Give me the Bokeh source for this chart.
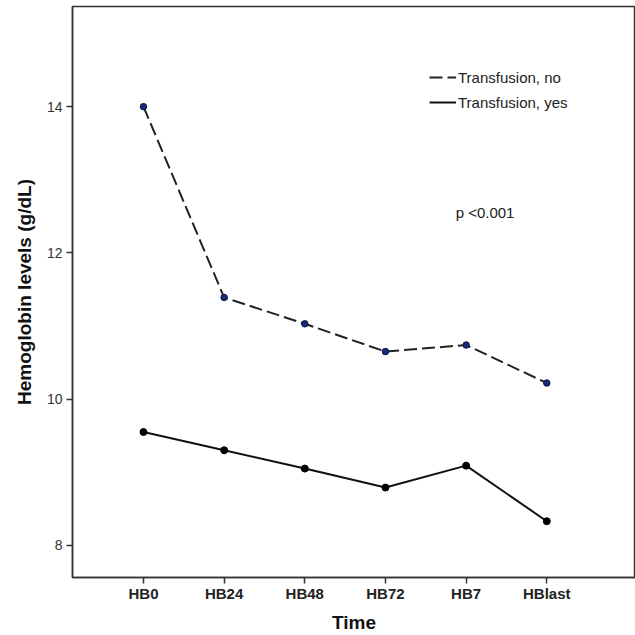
from bokeh.plotting import figure
from bokeh.models import FixedTicker, Range1d, Legend, LegendItem, Label
from bokeh.embed import file_html
from bokeh.resources import INLINE

categories = ["HB0", "HB24", "HB48", "HB72", "HB7", "HBlast"]
transfusion_no = [14.0, 11.39, 11.03, 10.65, 10.74, 10.22]
transfusion_yes = [9.55, 9.30, 9.05, 8.79, 9.09, 8.33]
y_ticks = [8, 10, 12, 14]

xs = list(range(len(categories)))
FONT = "Liberation Sans"

p = figure(width=635, height=635, output_backend="svg", toolbar_location=None,
           x_range=Range1d(-0.88, 6.1), y_range=Range1d(7.56, 15.37),
           min_border_left=72, min_border_top=6, min_border_right=0, min_border_bottom=58)
p.xgrid.visible = False
p.ygrid.visible = False
p.outline_line_color = "#333333"
p.outline_line_width = 1.5
p.background_fill_color = "white"
p.border_fill_color = "white"

l_no = p.line(xs, transfusion_no, line_color="#222222", line_width=2, line_dash="13 5")
c_no = p.scatter(xs, transfusion_no, size=6.5, fill_color="#1a2a7a", line_color="#0d1540")
l_yes = p.line(xs, transfusion_yes, line_color="#111111", line_width=2)
c_yes = p.scatter(xs, transfusion_yes, size=7, fill_color="black", line_color="black")

p.xaxis.ticker = FixedTicker(ticks=xs)
p.xaxis.major_label_overrides = {i: c for i, c in enumerate(categories)}
p.yaxis.ticker = FixedTicker(ticks=y_ticks)
p.xaxis.minor_tick_line_color = None
p.yaxis.minor_tick_line_color = None
for ax in (p.xaxis, p.yaxis):
    ax.axis_line_color = "#333333"
    ax.axis_line_width = 1.5
    ax.major_tick_line_color = "#333333"
    ax.major_tick_line_width = 1.5
    ax.major_tick_in = 0
    ax.major_tick_out = 6
    ax.major_label_text_font = FONT
    ax.axis_label_text_font = FONT
    ax.axis_label_text_font_style = "bold"
    ax.axis_label_text_font_size = "19px"
    ax.axis_label_text_color = "#111111"
p.xaxis.major_label_text_font_style = "bold"
p.xaxis.major_label_text_font_size = "15px"
p.xaxis.major_label_text_color = "#222222"
p.yaxis.major_label_text_font_size = "14px"
p.yaxis.major_label_text_color = "#333333"
p.xaxis.axis_label = "Time"
p.yaxis.axis_label = "Hemoglobin levels (g/dL)"
p.xaxis.major_label_standoff = 1
p.xaxis.axis_label_standoff = 7
p.yaxis.major_label_standoff = 4
p.yaxis.axis_label_standoff = 9

legend = Legend(items=[LegendItem(label="Transfusion, no", renderers=[l_no]),
                       LegendItem(label="Transfusion, yes", renderers=[l_yes])],
                location=(357, 465), border_line_color=None, background_fill_alpha=0,
                label_text_font=FONT, label_text_font_size="15px", label_text_color="#222222",
                glyph_width=27, glyph_height=20, spacing=5, label_standoff=2, padding=4)
p.add_layout(legend, "center")

p.add_layout(Label(x=3.87, y=12.43, text="p <0.001", text_font=FONT, text_font_size="15px",
                   text_color="#222222"))

open("out.html", "w").write(file_html(p, INLINE))
